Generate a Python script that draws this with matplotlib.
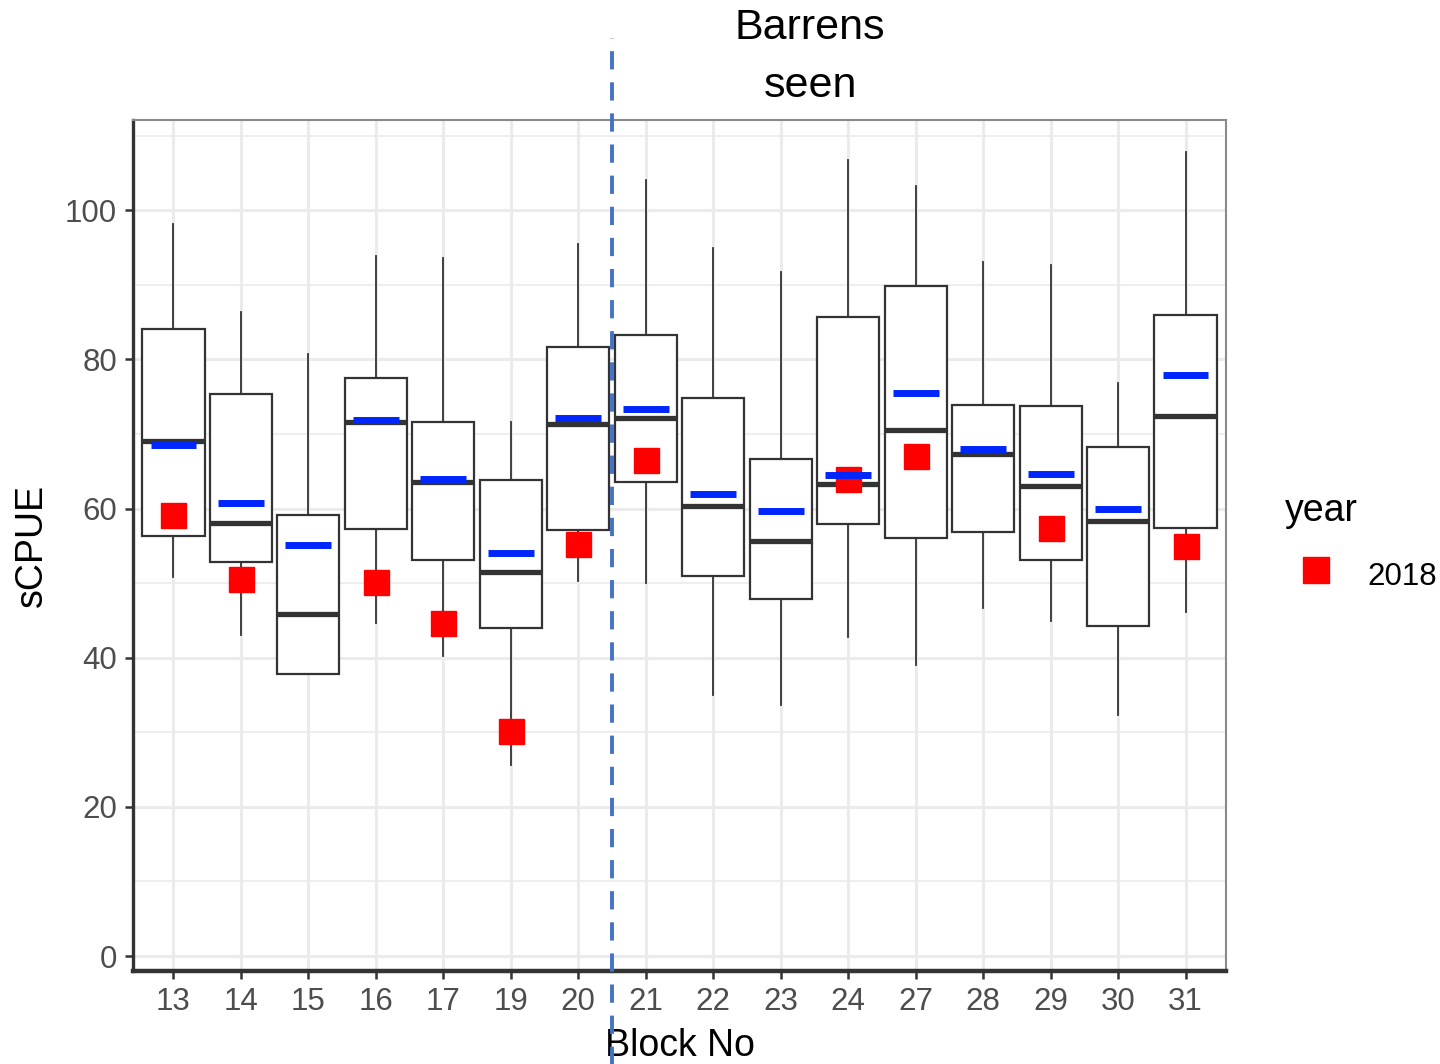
import matplotlib.pyplot as plt
from matplotlib.lines import Line2D
import numpy as np

plt.rcParams['font.family'] = ['Liberation Sans', 'DejaVu Sans']

# sCPUE summary per block (all years) plus the 2018 value
blocks = ['13', '14', '15', '16', '17', '19', '20', '21', '22', '23', '24', '27', '28', '29', '30', '31']
whisk_lo = [50.8, 43.0, 37.8, 44.6, 40.3, 25.6, 50.3, 50.0, 35.0, 33.6, 42.8, 39.0, 46.7, 44.9, 32.3, 46.2]
q1 = [56.3, 52.8, 37.8, 57.3, 53.1, 44.0, 57.1, 63.5, 50.9, 47.9, 57.9, 56.0, 56.8, 53.1, 44.2, 57.4]
median = [69.1, 58.1, 45.8, 71.6, 63.6, 51.5, 71.3, 72.1, 60.4, 55.7, 63.3, 70.5, 67.3, 63.0, 58.4, 72.4]
q3 = [84.1, 75.3, 59.2, 77.5, 71.6, 63.8, 81.7, 83.3, 74.8, 66.7, 85.7, 89.8, 73.9, 73.7, 68.3, 86.0]
whisk_hi = [98.2, 86.4, 80.7, 93.9, 93.6, 71.6, 95.5, 104.1, 95.0, 91.7, 106.8, 103.3, 93.1, 92.6, 76.8, 107.8]
mean = [68.5, 60.7, 55.1, 71.9, 63.9, 54.0, 72.2, 73.3, 62.0, 59.7, 64.5, 75.5, 68.0, 64.7, 59.9, 77.9]
y2018 = [59.2, 50.5, np.nan, 50.1, 44.6, 30.2, 55.3, 66.5, np.nan, np.nan, 63.9, 67.0, np.nan, 57.4, np.nan, 55.0]

x = np.arange(len(blocks))
stats = []
for i in range(len(blocks)):
    stats.append({'whislo': whisk_lo[i], 'q1': q1[i], 'med': median[i],
                  'q3': q3[i], 'whishi': whisk_hi[i], 'fliers': []})

fig = plt.figure(figsize=(14.4, 10.64), dpi=100)
ax = fig.add_axes([133 / 1440, 93 / 1064, 1093 / 1440, 851 / 1064])

dark = '#333333'
ax.bxp(stats, positions=x, widths=0.92, showcaps=False, patch_artist=True,
       boxprops=dict(facecolor='white', edgecolor=dark, linewidth=1.6),
       whiskerprops=dict(color=dark, linewidth=1.3),
       medianprops=dict(color=dark, linewidth=3.8, solid_capstyle='butt'),
       zorder=2)

# 2018 values
ax.plot(x, y2018, 's', color='#FF0000', markersize=18, linestyle='none', zorder=3)

# overall means
ax.hlines(mean, x - 0.34, x + 0.34, color='#0026FF', linewidth=5, zorder=4)

ax.set_xlim(-0.6, 15.6)
ax.set_ylim(-2.0, 112.1)
ax.set_xticks(x)
ax.set_xticklabels(blocks)
ax.set_yticks([0, 20, 40, 60, 80, 100])
ax.set_yticks([10, 30, 50, 70, 90, 110], minor=True)

ax.grid(True, which='major', color='#EBEBEB', linewidth=2.2, zorder=0)
ax.grid(True, which='minor', axis='y', color='#EBEBEB', linewidth=1.2, zorder=0)
ax.set_axisbelow(True)

for side in ['top', 'right']:
    ax.spines[side].set_color('#8A8A8A')
    ax.spines[side].set_linewidth(1.5)
ax.spines['left'].set_color(dark)
ax.spines['left'].set_linewidth(2.4)
ax.spines['bottom'].set_color(dark)
ax.spines['bottom'].set_linewidth(3.2)

ax.tick_params(axis='both', which='major', length=5.5, width=1.8, color=dark,
               labelsize=22.5, labelcolor='#4D4D4D', pad=6)
ax.tick_params(axis='y', which='minor', length=0)

ax.set_xlabel('Block No', fontsize=27, color='black')
ax.set_ylabel('sCPUE', fontsize=27, color='black')
ax.xaxis.set_label_coords(0.5, -0.067)
ax.yaxis.set_label_coords(-0.076, 0.5)

# divider between blocks 20 and 21
ax.axvline(6.5, ymin=-0.11, ymax=(971 - 38) / 851, color='#4472C4', linewidth=2.8,
           linestyle=(0, (4.7, 3.3)), clip_on=False, zorder=5)

fig.text(810 / 1440, 1 - 57 / 1064, 'Barrens\nseen', fontsize=31, ha='center',
         va='center', linespacing=1.6, color='black')

handle = Line2D([], [], marker='s', color='#FF0000', linestyle='none', markersize=19)
leg = ax.legend([handle], ['2018'], title='year', loc='upper left',
                bbox_to_anchor=(1260 / 1440, 1 - 468 / 1064),
                bbox_transform=fig.transFigure, frameon=False, fontsize=22.5,
                title_fontsize=27, alignment='left', handlelength=2.0,
                handleheight=1.5, handletextpad=0.65, labelspacing=0.85,
                borderpad=0.3)

fig.savefig('out.png', dpi=100)
